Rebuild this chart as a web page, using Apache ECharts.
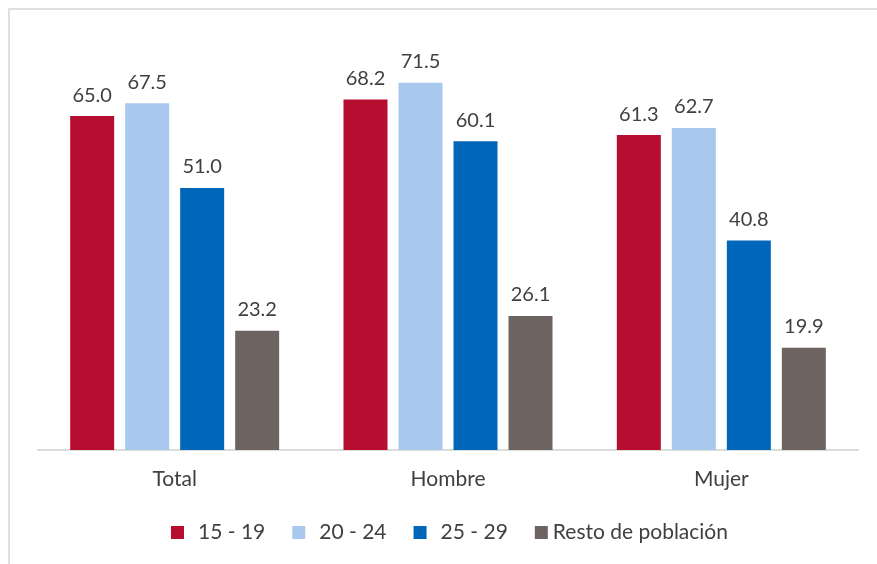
<!DOCTYPE html>
<html>
<head>
<meta charset="utf-8">
<script src="https://cdn.jsdelivr.net/npm/echarts@6/dist/echarts.min.js"></script>
<style>
  html, body { margin: 0; padding: 0; background: #fff; }
  #chart { width: 877px; height: 564px; }
</style>
</head>
<body>
<div id="chart"></div>
<script>
const categories = ['Total', 'Hombre', 'Mujer']
const seriesNames = ['15 - 19', '20 - 24', '25 - 29', 'Resto de población']
const v1519 = [65.0, 68.2, 61.3]
const v2024 = [67.5, 71.5, 62.7]
const v2529 = [51.0, 60.1, 40.8]
const vResto = [23.2, 26.1, 19.9]

const colors = ['#b70d30', '#a9c8ee', '#0066b9', '#6d6462']
const values = [v1519, v2024, v2529, vResto]

const chart = echarts.init(document.getElementById('chart'))

const font = 'Lato, "Open Sans", sans-serif'

chart.setOption({
  backgroundColor: '#ffffff',
  animation: false,
  textStyle: { fontFamily: font },
  graphic: [
    {
      type: 'rect',
      shape: { x: 9, y: 9, width: 900, height: 600 },
      style: { fill: 'none', stroke: '#dde3dc', lineWidth: 2 },
      silent: true
    }
  ],
  grid: {
    left: 38,
    right: 19,
    top: 39,
    bottom: 114
  },
  legend: {
    top: 517,
    left: 166,
    itemWidth: 13,
    itemHeight: 13,
    itemGap: 27,
    icon: 'rect',
    textStyle: { fontSize: 21, color: '#404040', fontFamily: font },
    // gap between the square and its text differs in the original
    data: seriesNames.map((name, i) => ({
      name,
      textStyle: { padding: [0, 0, 0, i < 3 ? 9 : 0] }
    }))
  },
  xAxis: {
    type: 'category',
    data: categories,
    axisLine: { lineStyle: { color: '#d9dfd8', width: 2 } },
    axisTick: { show: false },
    axisLabel: { color: '#404040', fontSize: 21, margin: 19, fontFamily: font }
  },
  yAxis: {
    type: 'value',
    min: 0,
    max: 80,
    show: false,
    splitLine: { show: false }
  },
  series: seriesNames.map((name, i) => ({
    name,
    type: 'bar',
    data: values[i],
    barWidth: 44,
    barGap: '25%',
    itemStyle: { color: colors[i] },
    label: {
      show: true,
      position: 'top',
      distance: 11,
      color: '#404040',
      fontSize: 20,
      fontFamily: font,
      formatter: p => p.value.toFixed(1)
    }
  }))
})
</script>
</body>
</html>
